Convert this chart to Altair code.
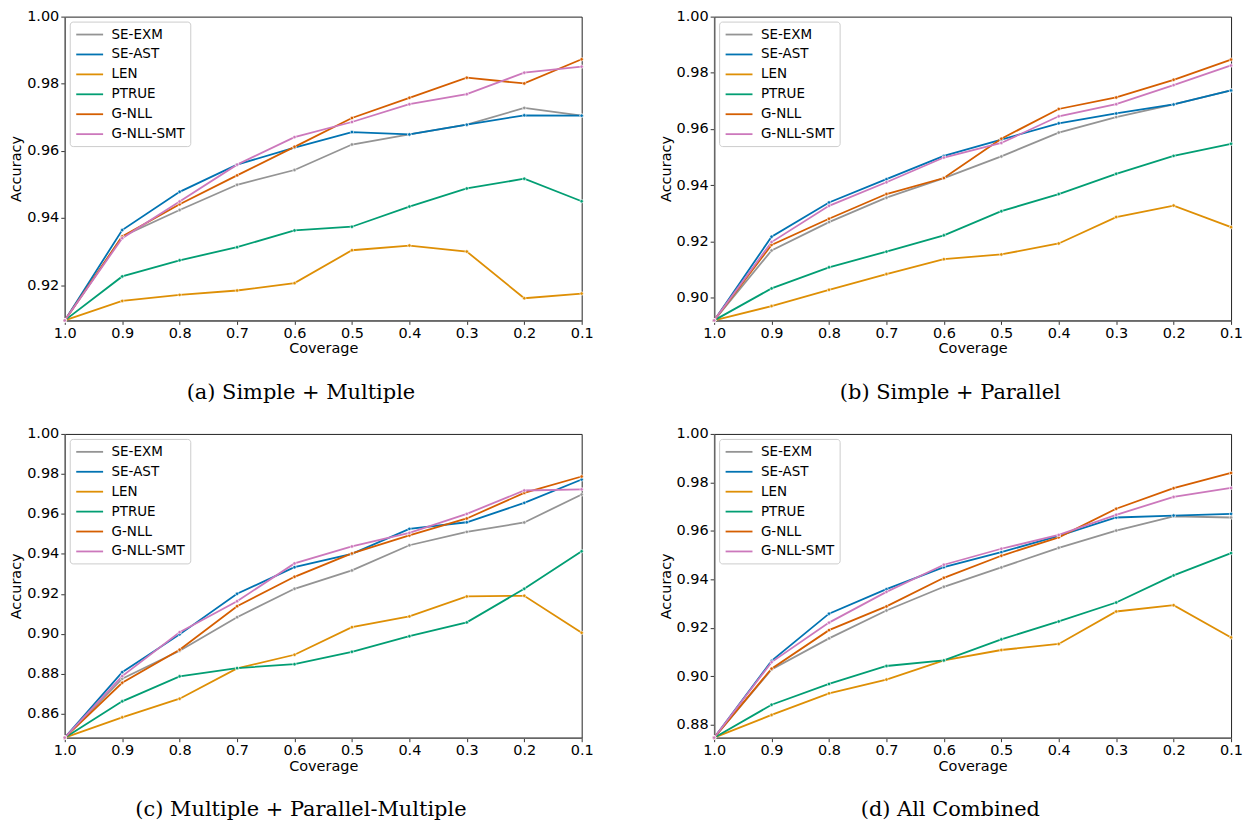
import altair as alt
import pandas as pd

COVERAGE = [1.0, 0.9, 0.8, 0.7, 0.6, 0.5, 0.4, 0.3, 0.2, 0.1]
SERIES = ["SE-EXM", "SE-AST", "LEN", "PTRUE", "G-NLL", "G-NLL-SMT"]
COLORS = ["#949494", "#0173b2", "#de8f05", "#029e73", "#d55e00", "#cc78bc"]

# (a) Simple + Multiple
A_SE_EXM = [0.9095, 0.9345, 0.9424, 0.9499, 0.9543, 0.9619, 0.9649, 0.9678, 0.9728, 0.9705]
A_SE_AST = [0.9095, 0.9364, 0.9478, 0.9559, 0.9610, 0.9656, 0.9649, 0.9678, 0.9706, 0.9705]
A_LEN = [0.9095, 0.9153, 0.9171, 0.9184, 0.9206, 0.9304, 0.9318, 0.9300, 0.9161, 0.9175]
A_PTRUE = [0.9095, 0.9226, 0.9274, 0.9313, 0.9363, 0.9374, 0.9434, 0.9488, 0.9517, 0.9450]
A_GNLL = [0.9095, 0.9345, 0.9441, 0.9527, 0.9612, 0.9698, 0.9758, 0.9818, 0.9801, 0.9873]
A_GNLL_SMT = [0.9095, 0.9340, 0.9449, 0.9559, 0.9641, 0.9686, 0.9739, 0.9769, 0.9833, 0.9851]
A_TICKS = [0.92, 0.94, 0.96, 0.98, 1.00]

# (b) Simple + Parallel
B_SE_EXM = [0.8918, 0.9167, 0.9268, 0.9355, 0.9425, 0.9502, 0.9587, 0.9642, 0.9687, 0.9737]
B_SE_AST = [0.8918, 0.9216, 0.9338, 0.9421, 0.9504, 0.9562, 0.9620, 0.9655, 0.9687, 0.9737]
B_LEN = [0.8918, 0.8969, 0.9027, 0.9083, 0.9136, 0.9153, 0.9192, 0.9286, 0.9327, 0.9250]
B_PTRUE = [0.8918, 0.9032, 0.9107, 0.9163, 0.9221, 0.9307, 0.9368, 0.9440, 0.9504, 0.9547]
B_GNLL = [0.8918, 0.9187, 0.9280, 0.9368, 0.9425, 0.9565, 0.9671, 0.9712, 0.9775, 0.9847]
B_GNLL_SMT = [0.8918, 0.9197, 0.9326, 0.9410, 0.9498, 0.9550, 0.9645, 0.9688, 0.9756, 0.9826]
B_TICKS = [0.90, 0.92, 0.94, 0.96, 0.98, 1.00]

# (c) Multiple + Parallel-Multiple
C_SE_EXM = [0.848, 0.8775, 0.8915, 0.9083, 0.9225, 0.9317, 0.9443, 0.9510, 0.9557, 0.9697]
C_SE_AST = [0.848, 0.8808, 0.8997, 0.9200, 0.9333, 0.9400, 0.9525, 0.9558, 0.9655, 0.9772]
C_LEN = [0.848, 0.8582, 0.8675, 0.8827, 0.8895, 0.9033, 0.9087, 0.9187, 0.9190, 0.9005]
C_PTRUE = [0.848, 0.8662, 0.8787, 0.8828, 0.8848, 0.8910, 0.8988, 0.9057, 0.9225, 0.9413]
C_GNLL = [0.848, 0.8755, 0.8920, 0.9138, 0.9285, 0.9402, 0.9492, 0.9577, 0.9705, 0.9787]
C_GNLL_SMT = [0.848, 0.8788, 0.9008, 0.9163, 0.9352, 0.9437, 0.9505, 0.9600, 0.9717, 0.9723]
C_TICKS = [0.86, 0.88, 0.90, 0.92, 0.94, 0.96, 0.98, 1.00]

# (d) All Combined
D_SE_EXM = [0.8746, 0.9028, 0.9156, 0.9271, 0.9369, 0.9449, 0.9530, 0.9601, 0.9660, 0.9655]
D_SE_AST = [0.8746, 0.9063, 0.9258, 0.9359, 0.9450, 0.9512, 0.9579, 0.9655, 0.9663, 0.9670]
D_LEN = [0.8746, 0.8840, 0.8929, 0.8986, 0.9065, 0.9108, 0.9133, 0.9267, 0.9293, 0.9160]
D_PTRUE = [0.8746, 0.8882, 0.8968, 0.9042, 0.9065, 0.9152, 0.9226, 0.9304, 0.9416, 0.9508]
D_GNLL = [0.8746, 0.9031, 0.9190, 0.9288, 0.9406, 0.9497, 0.9573, 0.9691, 0.9776, 0.9839]
D_GNLL_SMT = [0.8746, 0.9058, 0.9221, 0.9348, 0.9460, 0.9526, 0.9583, 0.9666, 0.9740, 0.9777]
D_TICKS = [0.88, 0.90, 0.92, 0.94, 0.96, 0.98, 1.00]

CAPTIONS = ["(a) Simple + Multiple", "(b) Simple + Parallel",
            "(c) Multiple + Parallel-Multiple", "(d) All Combined"]


def panel(vals, yticks, caption):
    rows = []
    for s, v in zip(SERIES, vals):
        for i, (c, a) in enumerate(zip(COVERAGE, v)):
            rows.append(dict(series=s, coverage=c, acc=a, step=i))
    df = pd.DataFrame(rows)
    ymin = min(min(v) for v in vals)

    x = alt.X("coverage:Q",
              scale=alt.Scale(domain=[COVERAGE[0], COVERAGE[-1]], nice=False, zero=False),
              axis=alt.Axis(values=COVERAGE, format=".1f", title="Coverage",
                            labelFlush=False, grid=False))
    y = alt.Y("acc:Q",
              scale=alt.Scale(domain=[ymin, 1.0], nice=False, zero=False),
              axis=alt.Axis(values=yticks, format=".2f", title="Accuracy",
                            labelFlush=False, grid=False))
    legend = alt.Legend(orient="top-left", offset=5, title=None,
                        fillColor="white", strokeColor="#cccccc", cornerRadius=3,
                        padding=5, symbolType="M-2,0H2", symbolSize=182,
                        symbolStrokeWidth=1.8, symbolOffset=7,
                        labelFont="DejaVu Sans", labelFontSize=13.5,
                        labelColor="black", rowPadding=5, labelOffset=14)
    color = alt.Color("series:N", scale=alt.Scale(domain=SERIES, range=COLORS),
                      legend=legend)

    lines = alt.Chart(df).mark_line(strokeWidth=1.8).encode(
        x=x, y=y, color=color, order="step:Q")
    pts = alt.Chart(df).mark_point(
        filled=True, size=12, stroke="white", strokeWidth=0.6, opacity=1).encode(
        x=x, y=y, color=alt.Color("series:N", scale=alt.Scale(domain=SERIES, range=COLORS),
                                  legend=None))
    return alt.layer(lines, pts).properties(
        width=519, height=305,
        title=alt.TitleParams(text=caption, orient="bottom", anchor="middle",
                              frame="bounds", font="DejaVu Serif", fontSize=21,
                              fontWeight="normal", color="black", offset=27))


pa = panel([A_SE_EXM, A_SE_AST, A_LEN, A_PTRUE, A_GNLL, A_GNLL_SMT], A_TICKS, CAPTIONS[0])
pb = panel([B_SE_EXM, B_SE_AST, B_LEN, B_PTRUE, B_GNLL, B_GNLL_SMT], B_TICKS, CAPTIONS[1])
pc = panel([C_SE_EXM, C_SE_AST, C_LEN, C_PTRUE, C_GNLL, C_GNLL_SMT], C_TICKS, CAPTIONS[2])
pd_ = panel([D_SE_EXM, D_SE_AST, D_LEN, D_PTRUE, D_GNLL, D_GNLL_SMT], D_TICKS, CAPTIONS[3])

row1 = alt.hconcat(pa, pb, spacing=63).resolve_scale(x="independent", y="independent").resolve_legend(color="independent")
row2 = alt.hconcat(pc, pd_, spacing=63).resolve_scale(x="independent", y="independent").resolve_legend(color="independent")

chart = alt.vconcat(row1, row2, spacing=21).resolve_scale(
    x="independent", y="independent").resolve_legend(color="independent").properties(
    padding={"left": 0, "top": -2, "right": 0, "bottom": 0}
).configure_view(stroke="#222222", strokeWidth=1).configure_axis(
    labelFont="DejaVu Sans", labelFontSize=14.5, labelColor="black",
    titleFont="DejaVu Sans", titleFontSize=14.5, titleFontWeight="normal", titleColor="black",
    domainColor="#666666", domainWidth=1.5, tickColor="#333333", tickSize=4,
    labelPadding=2
).configure_axisY(titlePadding=3).configure_axisX(titlePadding=2)

chart.save("out.html", embed_options={"renderer": "svg", "actions": False})
